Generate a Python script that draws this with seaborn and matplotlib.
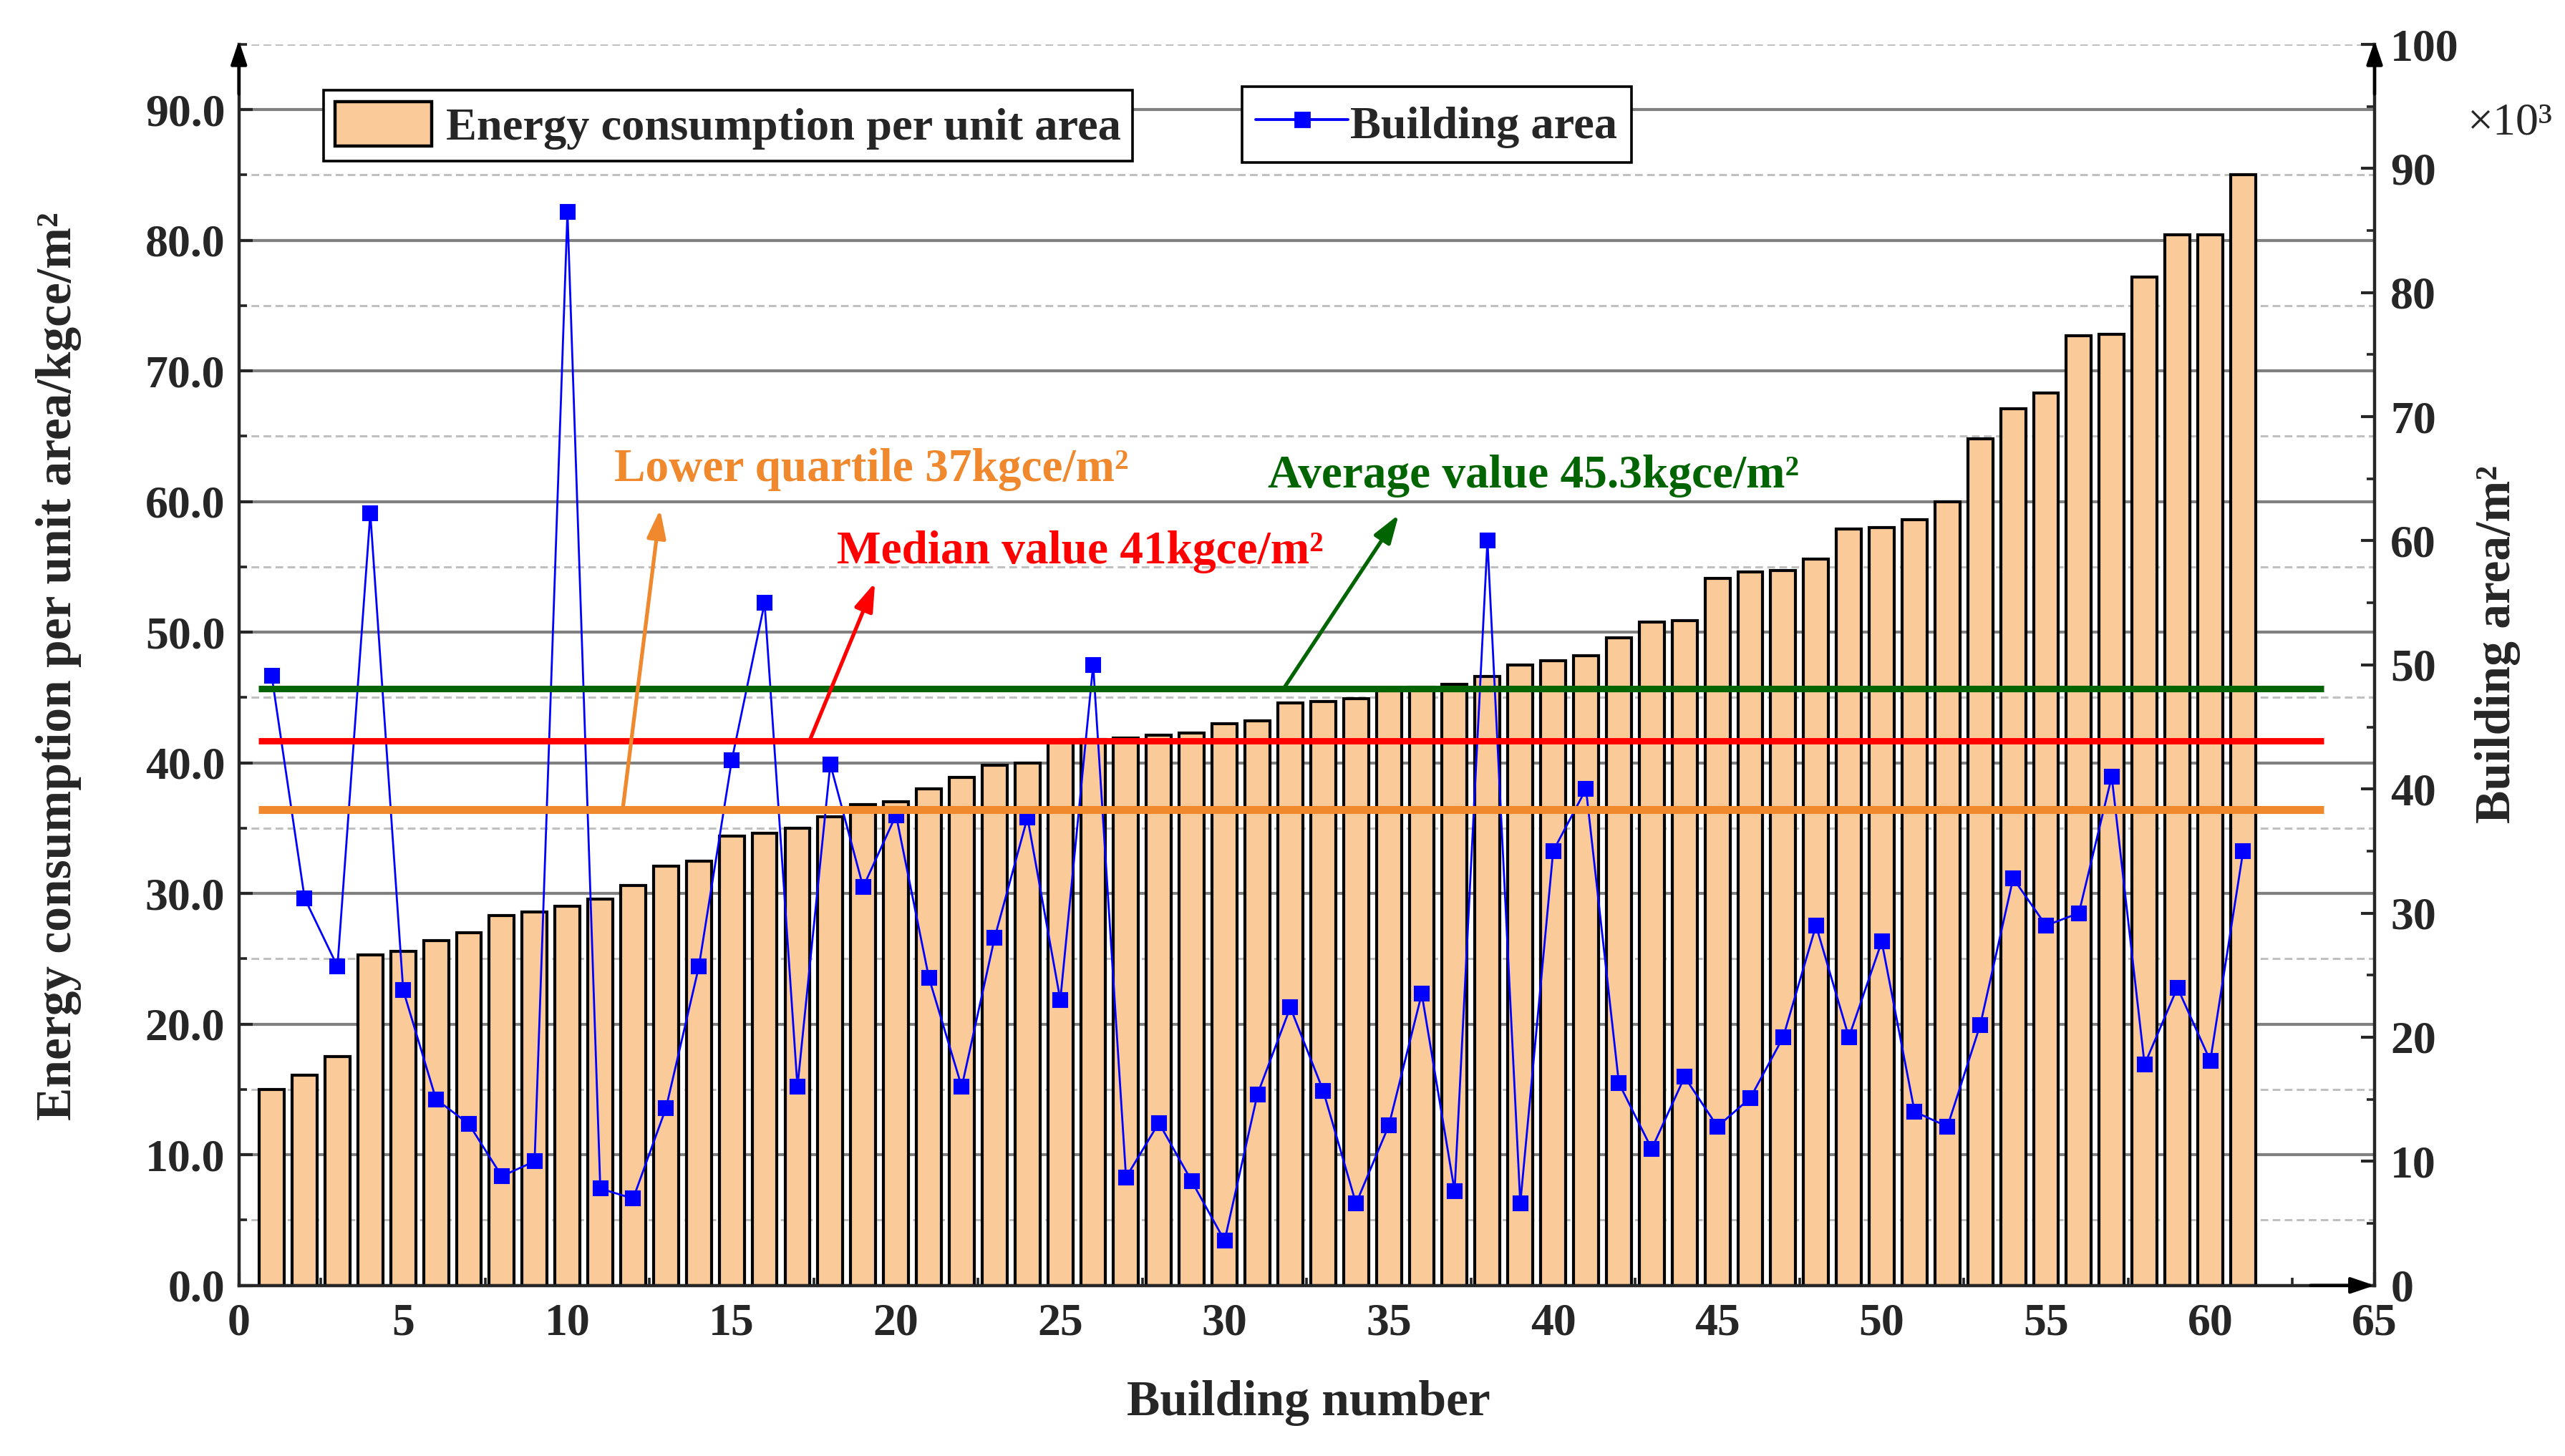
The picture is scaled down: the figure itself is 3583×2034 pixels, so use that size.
import matplotlib
matplotlib.use("Agg")
import matplotlib.pyplot as plt
from matplotlib.patches import Patch
from matplotlib.lines import Line2D
from matplotlib.ticker import MultipleLocator, FormatStrFormatter
import seaborn as sns

# ---------------- data ----------------
building_no = list(range(1, 62))
energy = [15.0, 16.1, 17.5, 25.3, 25.6, 26.4, 27.0, 28.3, 28.6, 29.0,
          29.6, 30.6, 32.1, 32.5, 34.4, 34.6, 35.0, 35.9, 36.8, 37.0,
          38.0, 38.9, 39.8, 40.0, 41.7, 41.8, 41.9, 42.1, 42.3, 43.0,
          43.2, 44.6, 44.7, 44.9, 45.5, 45.8, 46.0, 46.6, 47.5, 47.8,
          48.2, 49.6, 50.8, 50.9, 54.1, 54.6, 54.7, 55.6, 57.9, 58.0,
          58.6, 60.0, 64.8, 67.1, 68.3, 72.7, 72.8, 77.2, 80.4, 80.4,
          85.0]
area_k = [49.1, 31.2, 25.7, 62.2, 23.8, 15.0, 13.0, 8.8, 10.0, 86.5,
          7.8, 7.0, 14.3, 25.7, 42.3, 55.0, 16.0, 42.0, 32.1, 37.9,
          24.8, 16.0, 28.0, 37.7, 23.0, 50.0, 8.7, 13.1, 8.4, 3.6,
          15.4, 22.4, 15.7, 6.6, 12.9, 23.5, 7.6, 60.0, 6.6, 35.0,
          40.0, 16.3, 11.0, 16.8, 12.8, 15.1, 20.0, 29.0, 20.0, 27.7,
          14.0, 12.8, 21.0, 32.8, 29.0, 30.0, 41.0, 17.8, 24.0, 18.1,
          35.0]
stat_labels = ["Lower quartile 37kgce/m\u00b2",
               "Median value 41kgce/m\u00b2",
               "Average value 45.3kgce/m\u00b2"]
stat_levels = [36.4, 41.7, 45.7]
series_labels = ["Energy consumption per unit area", "Building area"]
x_label = "Building number"
y_label_left = "Energy consumption per unit area/kgce/m\u00b2"
y_label_right = "Building area/m\u00b2"

# ---------------- layout / style ----------------
stat_colors = ["#F0882E", "#FF0000", "#006400"]
stat_lw = [4.0, 3.2, 3.3]
stat_text_pos = [(11.42, 61.6), (18.19, 55.3), (31.31, 61.1)]
arrow_base = [(11.68, 36.4), (17.37, 41.7), (31.8, 45.7)]
arrow_tip = [(12.82, 59.4), (19.36, 53.8), (35.3, 59.0)]
line_x_range = (0.6, 63.45)
bar_color = "#FACA98"
blue = "#0000FF"

sns.set_style("ticks")
plt.rcParams["font.family"] = ["Liberation Serif", "DejaVu Serif"]
plt.rcParams["font.weight"] = "bold"
plt.rcParams["axes.linewidth"] = 1.6

W, H = 3583, 2034
fig = plt.figure(figsize=(W / 200, H / 200), dpi=200)
ax = fig.add_axes([333.7 / W, 1 - 1795.7 / H, (3317 - 333.7) / W, (1795.7 - 62) / H])

sns.barplot(x=building_no, y=energy, native_scale=True, color=bar_color,
            saturation=1, edgecolor="black", linewidth=1.5, width=0.76,
            errorbar=None, ax=ax, zorder=2)

ax.set_xlim(0, 65)
ax.set_ylim(0, 95)
ax.xaxis.set_major_locator(MultipleLocator(5))
ax.xaxis.set_minor_locator(MultipleLocator(2.5))
ax.xaxis.set_major_formatter(FormatStrFormatter("%d"))
ax.yaxis.set_major_locator(MultipleLocator(10))
ax.yaxis.set_minor_locator(MultipleLocator(5))
ax.yaxis.set_major_formatter(FormatStrFormatter("%.1f"))
ax.set_axisbelow(True)
ax.grid(axis="y", which="major", color="#808080", lw=1.5, ls="-")
ax.grid(axis="y", which="minor", color="#C0C0C0", lw=1.1, ls=(0, (3.5, 2.0)))
ax.grid(axis="x", which="both", visible=False)
for s in ["top", "right"]:
    ax.spines[s].set_visible(False)
ax.tick_params(axis="both", which="major", direction="in", length=7, width=1.5,
               labelsize=23, pad=7, right=False, top=False)
ax.tick_params(axis="both", which="minor", direction="in", length=3.8, width=1.3,
               right=False, top=False)
ax.tick_params(axis="x", which="major", pad=9)
ax.set_xlabel("")
ax.set_ylabel("")

ax2 = ax.twinx()
sns.lineplot(x=building_no, y=area_k, ax=ax2, color=blue, marker="s",
             markersize=7, markeredgecolor=blue, linewidth=1.0, legend=False,
             zorder=3)
ax2.set_ylim(0, 100)
ax2.set_xlim(0, 65)
ax2.yaxis.set_major_locator(MultipleLocator(10))
ax2.yaxis.set_minor_locator(MultipleLocator(5))
ax2.yaxis.set_major_formatter(FormatStrFormatter("%d"))
for s in ["top", "left", "bottom"]:
    ax2.spines[s].set_visible(False)
ax2.spines["right"].set_linewidth(1.6)
ax2.tick_params(axis="y", which="major", direction="in", length=7, width=1.5,
                labelsize=23, pad=8)
ax2.tick_params(axis="y", which="minor", direction="in", length=3.8, width=1.3)
ax2.set_ylabel("")
ax2.set_xlabel("")

# statistic lines, arrows and texts (left-axis units), drawn above the blue line
for lvl, c, lw in zip(stat_levels, stat_colors, stat_lw):
    ax2.plot(list(line_x_range), [lvl, lvl], color=c, lw=lw,
             transform=ax.transData, zorder=4, solid_capstyle="butt",
             scalex=False, scaley=False)
for lab, c, (tx, ty), b, t in zip(stat_labels, stat_colors, stat_text_pos,
                                  arrow_base, arrow_tip):
    ax2.annotate("", xy=t, xytext=b, xycoords=ax.transData,
                 textcoords=ax.transData,
                 arrowprops=dict(arrowstyle="-|>,head_length=0.6,head_width=0.2",
                                 color=c, lw=1.9, mutation_scale=20,
                                 shrinkA=0, shrinkB=0), zorder=5)
    ax2.text(tx, ty, lab, transform=ax.transData, color=c, fontsize=23.5,
             fontweight="bold", ha="left", va="baseline", zorder=5)

# axis arrows
arrow_kw = dict(arrowstyle="-|>,head_length=0.5,head_width=0.17", color="black",
                lw=1.6, mutation_scale=20, shrinkA=0, shrinkB=0)
ax2.annotate("", xy=(0, 1.003), xytext=(0, 0.96), xycoords="axes fraction",
             arrowprops=arrow_kw, annotation_clip=False)
ax2.annotate("", xy=(1, 1.003), xytext=(1, 0.96), xycoords="axes fraction",
             arrowprops=arrow_kw, annotation_clip=False)
ax2.annotate("", xy=(1.0, 0), xytext=(0.97, 0), xycoords="axes fraction",
             arrowprops=arrow_kw, annotation_clip=False)

# axis labels
fig.text(1828 / W, 1 - 1960 / H, x_label, fontsize=25, fontweight="bold",
         ha="center", va="center")
fig.text(82 / W, 1 - 931 / H, y_label_left, fontsize=25, fontweight="bold",
         ha="center", va="center", rotation=90)
fig.text(3489 / W, 1 - 900 / H, y_label_right, fontsize=25, fontweight="bold",
         ha="center", va="center", rotation=90)
fig.text(3506 / W, 1 - 172 / H, "\u00d710\u00b3", fontsize=23,
         fontweight="normal", ha="center", va="center")

# legends
leg_kw = dict(loc="upper left", bbox_transform=fig.transFigure, frameon=True,
              fancybox=False, edgecolor="black", framealpha=1, borderaxespad=0,
              prop=dict(family=["Liberation Serif"], weight="bold", size=23.2))
leg1 = fig.legend(handles=[Patch(facecolor=bar_color, edgecolor="black", lw=1.6)],
                  labels=[series_labels[0]], bbox_to_anchor=(452 / W, 1 - 126 / H),
                  borderpad=0.25, handlelength=2.1, handleheight=1.1,
                  handletextpad=0.3, **leg_kw)
leg1.get_frame().set_linewidth(1.3)
leg2 = fig.legend(handles=[Line2D([], [], color=blue, lw=1.4, marker="s",
                                  markersize=7, markeredgecolor=blue)],
                  labels=[series_labels[1]], bbox_to_anchor=(1735 / W, 1 - 121 / H),
                  borderpad=0.3, handlelength=2.0, handleheight=1.1,
                  handletextpad=0.05, **leg_kw)
leg2.get_frame().set_linewidth(1.3)

fig.savefig("out.png", dpi=200)
